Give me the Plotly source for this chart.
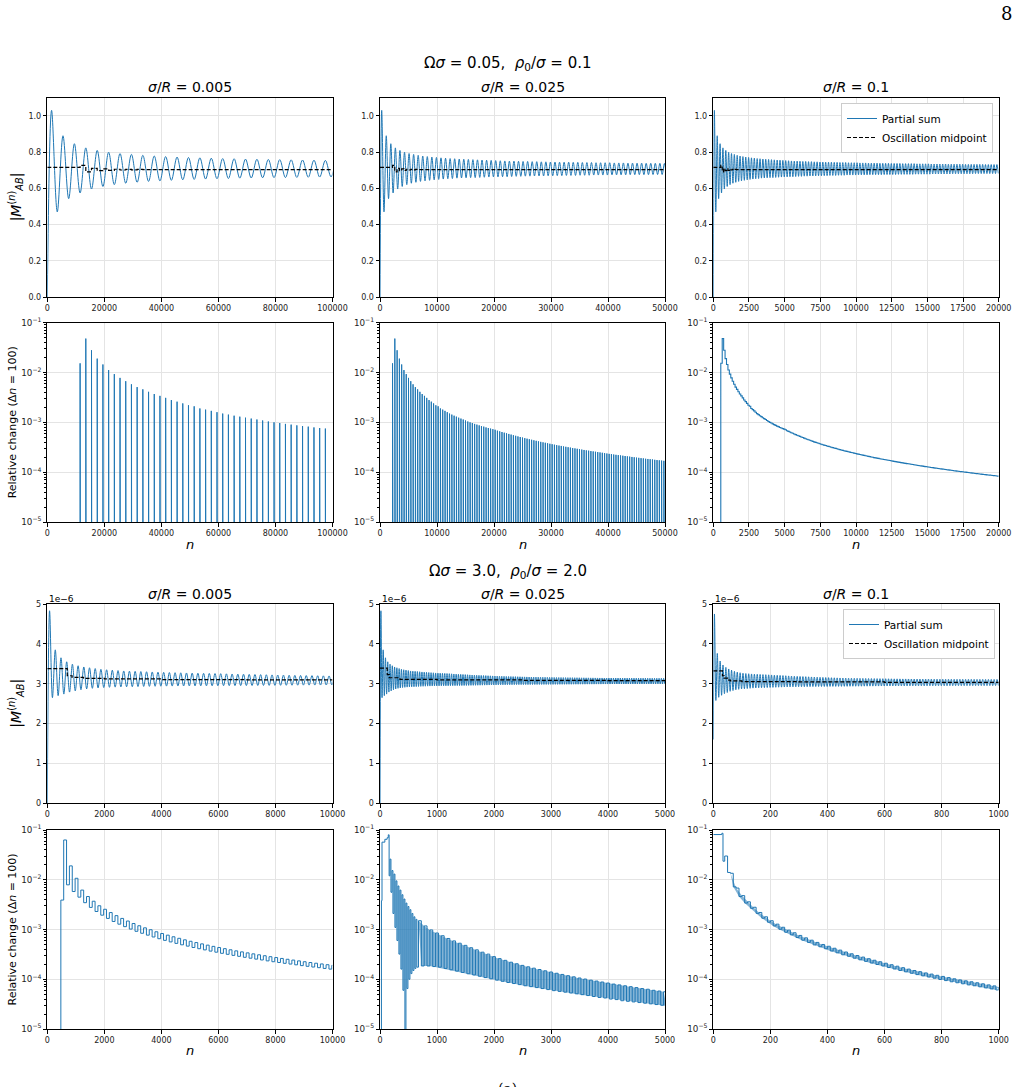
import plotly.graph_objects as go

FONT = "DejaVu Sans"
BLUE = "#1f77b4"
W, H = 1023, 1087

# ---------------- data ----------------
SUPTITLES = ["Ω<i>σ</i> = 0.05,  <i>ρ</i><sub>0</sub>/<i>σ</i> = 0.1",
             "Ω<i>σ</i> = 3.0,  <i>ρ</i><sub>0</sub>/<i>σ</i> = 2.0"]
PANEL_TITLES = ["<i>σ</i>/<i>R</i> = 0.005", "<i>σ</i>/<i>R</i> = 0.025", "<i>σ</i>/<i>R</i> = 0.1"]
XMAX_TOP = [100000, 50000, 20000]
XMAX_BOT = [10000, 5000, 1000]
XTICK_TOP = [20000, 10000, 2500]
XTICK_BOT = [2000, 1000, 200]

# oscillation periods (in n) of the partial sums
PERIOD_TOP = [4000, 800, 200]
PERIOD_BOT = [200, 40, 10]

# top half: peak / trough values of |M| per oscillation cycle
TOP_PEAKS = [
    1.030, 0.890, 0.846, 0.823, 0.809, 0.799, 0.792, 0.787, 0.782, 0.778,
    0.775, 0.772, 0.770, 0.768, 0.766, 0.764, 0.763, 0.761, 0.760, 0.759,
    0.758, 0.757, 0.756, 0.755, 0.754, 0.753, 0.752, 0.751, 0.750, 0.750,
    0.749, 0.748, 0.748, 0.747, 0.747, 0.746, 0.746, 0.745, 0.745, 0.744,
    0.744, 0.744, 0.743, 0.743, 0.742, 0.742, 0.742, 0.741, 0.741, 0.741,
    0.741, 0.740, 0.740, 0.740, 0.739, 0.739, 0.739, 0.739, 0.738, 0.738,
    0.738, 0.738, 0.737, 0.737, 0.737, 0.737, 0.736, 0.736, 0.736, 0.736,
    0.736, 0.735, 0.735, 0.735, 0.735, 0.735, 0.734, 0.734, 0.734, 0.734,
    0.734, 0.734, 0.733, 0.733, 0.733, 0.733, 0.733, 0.733, 0.732, 0.732,
    0.732, 0.732, 0.732, 0.732, 0.732, 0.731, 0.731, 0.731, 0.731, 0.731]
TOP_TROUGHS = [
    0.470, 0.543, 0.574, 0.596, 0.610, 0.620, 0.628, 0.633, 0.638, 0.641,
    0.644, 0.647, 0.649, 0.651, 0.653, 0.654, 0.656, 0.657, 0.658, 0.659,
    0.659, 0.660, 0.661, 0.662, 0.663, 0.663, 0.664, 0.664, 0.665, 0.666,
    0.666, 0.667, 0.667, 0.668, 0.668, 0.668, 0.669, 0.669, 0.670, 0.670,
    0.671, 0.671, 0.671, 0.672, 0.672, 0.672, 0.673, 0.673, 0.673, 0.673,
    0.674, 0.674, 0.674, 0.674, 0.675, 0.675, 0.675, 0.675, 0.675, 0.676,
    0.676, 0.676, 0.676, 0.676, 0.677, 0.677, 0.677, 0.677, 0.677, 0.677,
    0.678, 0.678, 0.678, 0.678, 0.678, 0.678, 0.679, 0.679, 0.679, 0.679,
    0.679, 0.679, 0.679, 0.680, 0.680, 0.680, 0.680, 0.680, 0.680, 0.680,
    0.680, 0.681, 0.681, 0.681, 0.681, 0.681, 0.681, 0.681, 0.681, 0.682]
# oscillation midpoint, one value per half-period update
MID_TOP = [0.715, 0.726, 0.691, 0.710, 0.697, 0.707, 0.699, 0.705, 0.701, 0.704, 0.702, 0.704, 0.703]
MID_TOP_START = [11500, 2200, 525]
MID_TOP_STEP = [2000, 400, 100]

# relative change (Δn = 100), top half, units of 1e-4, one value per update
REL_TOP_E4 = [
    153, 480, 280, 190, 145, 112, 93, 78, 67, 58,
    51, 46, 41, 37, 34, 31, 28, 26, 24, 22,
    21, 19, 18, 17, 16, 15, 14.3, 13.6, 13, 12.4,
    11.9, 11.4, 10.9, 10.4, 10, 9.7, 9.3, 9, 8.7, 8.4,
    8.2, 7.9, 7.7, 7.5, 7.3, 7.1, 6.8, 6.6, 6.4, 6.2,
    6.03, 5.85, 5.68, 5.52, 5.37, 5.22, 5.08, 4.95, 4.82, 4.7,
    4.58, 4.47, 4.36, 4.26, 4.16, 4.06, 3.97, 3.89, 3.8, 3.72,
    3.64, 3.56, 3.49, 3.42, 3.36, 3.29, 3.23, 3.17, 3.11, 3.05,
    3.0, 2.95, 2.89, 2.84, 2.79, 2.74, 2.7, 2.65, 2.61, 2.57,
    2.53, 2.49, 2.45, 2.41, 2.37, 2.33, 2.3, 2.26, 2.23, 2.2,
    2.17, 2.14, 2.11, 2.08, 2.05, 2.02, 1.99, 1.96, 1.94, 1.91,
    1.89, 1.86, 1.84, 1.82, 1.8, 1.77, 1.75, 1.73, 1.71, 1.69,
    1.67, 1.65, 1.631, 1.612, 1.593, 1.574, 1.556, 1.539, 1.521, 1.504,
    1.487, 1.471, 1.455, 1.439, 1.423, 1.407, 1.393, 1.378, 1.364, 1.349,
    1.335, 1.322, 1.309, 1.295, 1.282, 1.269, 1.257, 1.245, 1.232, 1.22,
    1.208, 1.197, 1.186, 1.174, 1.163, 1.152, 1.142, 1.131, 1.121, 1.11,
    1.1, 1.09, 1.081, 1.071, 1.062, 1.052, 1.043, 1.034, 1.026, 1.017,
    1.008, 1.0, 0.991, 0.983, 0.974, 0.966, 0.958, 0.95, 0.943, 0.935,
    0.927, 0.92, 0.913, 0.905, 0.898, 0.891, 0.884, 0.878, 0.871, 0.865,
    0.858, 0.852, 0.845, 0.839, 0.832]
REL_TOP_COUNT = [44, 120, 195]

# bottom half: |M| in units of 1e-6
BOT_START = [0.0, 0.0, 1.6]
BOT_PEAKS = [
    4.83, 3.85, 3.65, 3.55, 3.49, 3.45, 3.42, 3.40, 3.38, 3.36,
    3.35, 3.34, 3.33, 3.32, 3.315, 3.31, 3.305, 3.30, 3.295, 3.29,
    3.285, 3.28, 3.277, 3.274, 3.27, 3.267, 3.264, 3.261, 3.258, 3.255,
    3.252, 3.248, 3.244, 3.241, 3.238, 3.235, 3.231, 3.228, 3.225, 3.221,
    3.218, 3.216, 3.213, 3.21, 3.208, 3.205, 3.203, 3.2, 3.198, 3.195,
    3.193, 3.191, 3.189, 3.187, 3.185, 3.183, 3.181, 3.18, 3.178, 3.177,
    3.175, 3.174, 3.172, 3.171, 3.17, 3.168, 3.167, 3.166, 3.165, 3.164,
    3.163, 3.162, 3.161, 3.16, 3.159, 3.158, 3.157, 3.156, 3.155, 3.155,
    3.154, 3.153, 3.152, 3.152, 3.151, 3.15, 3.15, 3.149, 3.148, 3.148,
    3.147, 3.147, 3.146, 3.146, 3.145, 3.145, 3.144, 3.144, 3.143, 3.143,
    3.142, 3.142, 3.141, 3.141, 3.141, 3.14, 3.14, 3.14, 3.139, 3.139,
    3.139, 3.138, 3.138, 3.138, 3.137, 3.137, 3.137, 3.136, 3.136, 3.136,
    3.135, 3.135, 3.135, 3.135, 3.134]
BOT_TROUGHS = [
    2.65, 2.70, 2.74, 2.79, 2.82, 2.85, 2.87, 2.885, 2.895, 2.905,
    2.91, 2.915, 2.92, 2.923, 2.926, 2.929, 2.932, 2.934, 2.936, 2.938,
    2.94, 2.941, 2.942, 2.943, 2.944, 2.945, 2.946, 2.947, 2.948, 2.949,
    2.95, 2.951, 2.952, 2.953, 2.954, 2.955, 2.956, 2.957, 2.958, 2.959,
    2.96, 2.961, 2.962, 2.963, 2.964, 2.965, 2.966, 2.967, 2.968, 2.969,
    2.97, 2.971, 2.972, 2.973, 2.973, 2.974, 2.975, 2.975, 2.976, 2.977,
    2.977, 2.978, 2.978, 2.979, 2.979, 2.98, 2.98, 2.981, 2.981, 2.982,
    2.982, 2.983, 2.983, 2.984, 2.984, 2.984, 2.985, 2.985, 2.986, 2.986,
    2.986, 2.987, 2.987, 2.987, 2.988, 2.988, 2.988, 2.989, 2.989, 2.989,
    2.99, 2.99, 2.99, 2.99, 2.991, 2.991, 2.991, 2.992, 2.992, 2.992,
    2.992, 2.993, 2.993, 2.993, 2.993, 2.994, 2.994, 2.994, 2.994, 2.995,
    2.995, 2.995, 2.995, 2.995, 2.996, 2.996, 2.996, 2.996, 2.996, 2.997,
    2.997, 2.997, 2.997, 2.997, 2.998]
BOT3_PEAKS = [
    4.75, 3.76, 3.57, 3.47, 3.41, 3.37, 3.34, 3.31, 3.29, 3.275,
    3.262, 3.255, 3.25, 3.245, 3.24, 3.236, 3.232, 3.229, 3.226, 3.223,
    3.22, 3.216, 3.212, 3.208, 3.204, 3.2, 3.196, 3.192, 3.188, 3.185,
    3.182, 3.179, 3.176, 3.173, 3.17, 3.167, 3.164, 3.161, 3.158, 3.155,
    3.152, 3.15, 3.148, 3.146, 3.144, 3.142, 3.14, 3.138, 3.137, 3.136,
    3.135, 3.134, 3.133, 3.132, 3.131, 3.13, 3.129, 3.128, 3.127, 3.126,
    3.125, 3.124, 3.123, 3.122, 3.122, 3.121, 3.12, 3.12, 3.119, 3.118,
    3.118, 3.117, 3.117, 3.116, 3.116, 3.115, 3.115, 3.114, 3.114, 3.113,
    3.113, 3.113, 3.112, 3.112, 3.112, 3.111, 3.111, 3.111, 3.11, 3.11,
    3.11, 3.11, 3.109, 3.109, 3.109, 3.109, 3.108, 3.108, 3.108, 3.108]
BOT3_TROUGHS = [
    2.58, 2.66, 2.71, 2.75, 2.78, 2.81, 2.83, 2.85, 2.86, 2.87,
    2.875, 2.88, 2.885, 2.89, 2.893, 2.896, 2.899, 2.902, 2.905, 2.907,
    2.909, 2.911, 2.913, 2.915, 2.917, 2.919, 2.92, 2.921, 2.922, 2.923,
    2.924, 2.925, 2.926, 2.927, 2.928, 2.929, 2.93, 2.93, 2.931, 2.931,
    2.932, 2.933, 2.933, 2.934, 2.934, 2.935, 2.935, 2.936, 2.937, 2.937,
    2.938, 2.938, 2.939, 2.939, 2.94, 2.94, 2.941, 2.941, 2.942, 2.942,
    2.943, 2.943, 2.944, 2.944, 2.944, 2.945, 2.945, 2.945, 2.946, 2.946,
    2.946, 2.947, 2.947, 2.947, 2.948, 2.948, 2.948, 2.948, 2.949, 2.949,
    2.949, 2.949, 2.95, 2.95, 2.95, 2.95, 2.95, 2.951, 2.951, 2.951,
    2.951, 2.951, 2.952, 2.952, 2.952, 2.952, 2.952, 2.952, 2.953, 2.953]

MID_B1_N = [0, 700, 870, 1270, 2000, 4000, 7000]
MID_B1 = [3.38, 3.20, 3.16, 3.135, 3.12, 3.105, 3.095]
MID_B2_N = [0, 127, 162, 350, 1000, 2500, 4000]
MID_B2 = [3.39, 3.23, 3.15, 3.11, 3.095, 3.085, 3.08]
MID_B3_N = [0, 32, 38, 50, 60, 100, 300, 600]
MID_B3 = [3.32, 3.20, 3.14, 3.09, 3.07, 3.055, 3.045, 3.035]

# relative change, bottom half, units of 1e-4
B1_STEP_START = 475
B1_LOW_E4 = [39, 79, 58, 44.7, 34.6, 27.8, 23, 19.4, 16.7, 14.5,
             12.8, 11.4, 10.2, 9.2, 8.4, 7.7, 7.07, 6.53, 6.05, 5.63,
             5.26, 4.92, 4.63, 4.35, 4.11, 3.89, 3.68, 3.5, 3.32, 3.17,
             3.02, 2.89, 2.76, 2.65, 2.54, 2.44, 2.34, 2.25, 2.17, 2.09,
             2.02, 1.95, 1.88, 1.82, 1.76, 1.71, 1.65, 1.6]
B1_HIGH_E4 = [630, 190, 107, 62, 46, 37, 30, 25.5, 21.9, 19,
              16.7, 14.8, 13.2, 11.9, 10.8, 9.9, 9.0, 8.3, 7.7, 7.14,
              6.65, 6.2, 5.8, 5.46, 5.14, 4.85, 4.58, 4.34, 4.12, 3.91,
              3.72, 3.55, 3.39, 3.24, 3.1, 2.97, 2.84, 2.73, 2.62, 2.52,
              2.43, 2.34, 2.25, 2.17, 2.1, 2.03, 1.96, 1.9]

B2_EARLY_N = [25, 35, 85, 125, 145, 160]
B2_EARLY_E4 = [38, 570, 650, 700, 800, 120]
# early, finely resolved spikes (every 35 in n)
B2_DENSE_UP_E4 = [260, 153, 130, 95, 75, 62, 50, 41, 34, 29, 25, 21, 18, 16]
B2_DENSE_LOW_E4 = [56, 21, 11, 6, 3.2, 1.6, 0.6, 0.05, 0.65, 1.0, 1.3, 1.5, 1.65, 1.75]
B2_DENSE_UP_START, B2_DENSE_LOW_START, B2_DENSE_STEP = 175, 192, 35
# later band (every 100 in n)
B2_UP_E4 = [15, 11.8, 9.8, 8.5, 7.5,
            6.6, 5.9, 5.3, 4.8, 4.3, 3.9, 3.5, 3.2, 2.85, 2.6,
            2.4, 2.2, 2.05, 1.9, 1.78, 1.67, 1.57, 1.48, 1.4, 1.32,
            1.25, 1.18, 1.12, 1.06, 1.01, 0.96, 0.92, 0.88, 0.84, 0.8,
            0.77, 0.74, 0.71, 0.68, 0.65, 0.63, 0.6, 0.58, 0.56]
B2_LOW_E4 = [1.85, 1.85, 1.8, 1.75, 1.65,
             1.55, 1.46, 1.37, 1.29, 1.22, 1.15, 1.08, 1.02, 0.96, 0.91,
             0.86, 0.82, 0.78, 0.74, 0.71, 0.68, 0.65, 0.62, 0.59, 0.57,
             0.55, 0.53, 0.51, 0.49, 0.47, 0.45, 0.43, 0.42, 0.4, 0.39,
             0.37, 0.36, 0.35, 0.34, 0.33, 0.32, 0.31, 0.3, 0.29]
B2_UP_START, B2_LOW_START, B2_STEP = 675, 725, 100

B3_EARLY_N = [0, 30, 34]
B3_EARLY_E4 = [810, 860, 236]
B3_UP_E4 = [300, 135, 68, 48, 36, 28, 22, 18, 15, 12.8,
            11.1, 9.7, 8.6, 7.6, 6.8, 6.1, 5.5, 5.0, 4.6, 4.2,
            3.85, 3.53, 3.25, 3.0, 2.79, 2.59, 2.41, 2.25, 2.1, 1.96,
            1.83, 1.71, 1.6, 1.5, 1.42, 1.34, 1.27, 1.2, 1.14, 1.08,
            1.02, 0.97, 0.93, 0.89, 0.85, 0.81, 0.77, 0.735, 0.7]
B3_LOW_E4 = [140, 72, 46, 34, 26.7, 21.1, 16.9, 14, 11.8, 10.1,
             8.8, 7.8, 6.9, 6.1, 5.5, 4.9, 4.5, 4.1, 3.7, 3.4,
             3.1, 2.9, 2.65, 2.46, 2.29, 2.12, 1.98, 1.85, 1.72, 1.61,
             1.5, 1.41, 1.32, 1.24, 1.17, 1.11, 1.05, 0.99, 0.94, 0.89,
             0.85, 0.81, 0.77, 0.74, 0.705, 0.67, 0.64, 0.61]
B3_UP_START, B3_LOW_START, B3_STEP = 40, 50, 20

# ---------------- layout geometry (pixels) ----------------
COLS_PX = [(47.3, 332.5), (380.0, 665.0), (713.3, 998.7)]
ROWS_PX = [(97.7, 297.0), (322.7, 522.0), (604.0, 803.3), (830.0, 1029.0)]
FLOOR = 1e-7


def fx(p):
    return p / W


def fy(p):
    return 1 - p / H


def names(r, c):
    i = r * 3 + c + 1
    return ("x" if i == 1 else f"x{i}"), ("y" if i == 1 else f"y{i}"), i


fig = go.Figure()


def add(r, c, x, y, **kw):
    xa, ya, _ = names(r, c)
    kw.setdefault("showlegend", False)
    fig.add_trace(go.Scatter(x=x, y=y, xaxis=xa, yaxis=ya, mode="lines", **kw))


def osc_points(start_val, period, peaks, troughs, xmax, pph, tph):
    xs, ys = [0.0], [start_val]
    for k, (p, t) in enumerate(zip(peaks, troughs)):
        xp = (k + pph) * period
        if xp > xmax + period:
            break
        xs += [xp, (k + tph) * period]
        ys += [p, t]
    return xs, ys


def e4(lst):
    return [v * 1e-4 for v in lst]


# ---- row 1: partial sums, top half ----
for c in range(3):
    xs, ys = osc_points(0.0, PERIOD_TOP[c], TOP_PEAKS, TOP_TROUGHS, XMAX_TOP[c], 0.375, 0.875)
    leg = dict(showlegend=True, name="Partial sum", legend="legend") if c == 2 else {}
    add(0, c, xs, ys, line=dict(color=BLUE, width=1, shape="spline"), **leg)
    mx = [0] + [MID_TOP_START[c] + MID_TOP_STEP[c] * i for i in range(len(MID_TOP) - 1)] + [XMAX_TOP[c]]
    my = MID_TOP + [MID_TOP[-1]]
    leg = dict(showlegend=True, name="Oscillation midpoint", legend="legend") if c == 2 else {}
    add(0, c, mx, my, line=dict(color="black", width=1.2, dash="4px,2px", shape="hv"), **leg)

# ---- row 2: relative change, top half ----
rel_top = e4(REL_TOP_E4)
for c in range(2):
    xs, ys = [], []
    for i, v in enumerate(rel_top[:REL_TOP_COUNT[c]]):
        x0 = MID_TOP_START[c] + MID_TOP_STEP[c] * i
        xs += [x0, x0, x0 + 100, x0 + 100, None]
        ys += [FLOOR, v, v, FLOOR, None]
    add(1, c, xs, ys, line=dict(color=BLUE, width=1))
vals = rel_top[:REL_TOP_COUNT[2]]
xs = [MID_TOP_START[2]] + [MID_TOP_START[2] + 100 * i for i in range(len(vals))] + [XMAX_TOP[2]]
ys = [FLOOR] + vals + [vals[-1]]
add(1, 2, xs, ys, line=dict(color=BLUE, width=1.1, shape="hv"))

# ---- row 3: partial sums, bottom half (1e-6 units) ----
bot_sets = [(BOT_PEAKS, BOT_TROUGHS), (BOT_PEAKS, BOT_TROUGHS), (BOT3_PEAKS, BOT3_TROUGHS)]
mids = [(MID_B1_N, MID_B1), (MID_B2_N, MID_B2), (MID_B3_N, MID_B3)]
for c in range(3):
    pk, tr = bot_sets[c]
    xs, ys = osc_points(BOT_START[c], PERIOD_BOT[c], pk, tr, XMAX_BOT[c], 0.4, 0.9)
    leg = dict(showlegend=True, name="Partial sum", legend="legend2") if c == 2 else {}
    add(2, c, xs, ys, line=dict(color=BLUE, width=1, shape="spline"), **leg)
    mn, mv = mids[c]
    leg = dict(showlegend=True, name="Oscillation midpoint", legend="legend2") if c == 2 else {}
    add(2, c, list(mn) + [XMAX_BOT[c]], list(mv) + [mv[-1]],
        line=dict(color="black", width=1.2, dash="4px,2px", shape="hv"), **leg)

# ---- row 4: relative change, bottom half ----
seq = []
for lo, hi in zip(e4(B1_LOW_E4), e4(B1_HIGH_E4)):
    seq += [lo, hi]
xs = [B1_STEP_START] + [B1_STEP_START + 100 * j for j in range(len(seq))] + [XMAX_BOT[0]]
ys = [FLOOR] + seq + [seq[-1]]
add(3, 0, xs, ys, line=dict(color=BLUE, width=1, shape="hv"))


def zig(up, low, ust, lst, step):
    xs, ys = [], []
    for i in range(max(len(up), len(low))):
        if i < len(up):
            xs.append(ust + step * i); ys.append(up[i])
        if i < len(low):
            xs.append(lst + step * i); ys.append(low[i])
    return xs, ys


def band(up, low, ust, lst, step, i0):
    ux = [ust + step * i for i in range(i0, len(up))]
    lx = [lst + step * i for i in range(i0, len(low))]
    return ux + lx[::-1], up[i0:] + low[i0:][::-1]


FILL = "rgba(31,119,180,0.55)"
up2, lo2 = e4(B2_UP_E4), e4(B2_LOW_E4)
bx, by = band(up2, lo2, B2_UP_START, B2_LOW_START, B2_STEP, 0)
add(3, 1, bx, by, fill="toself", fillcolor=FILL, line=dict(width=0))
dx, dy = zig(e4(B2_DENSE_UP_E4), e4(B2_DENSE_LOW_E4), B2_DENSE_UP_START, B2_DENSE_LOW_START, B2_DENSE_STEP)
zx, zy = zig(up2, lo2, B2_UP_START, B2_LOW_START, B2_STEP)
xs = [B2_EARLY_N[0]] + B2_EARLY_N + dx + zx
ys = [FLOOR] + e4(B2_EARLY_E4) + dy + zy
add(3, 1, xs, ys, line=dict(color=BLUE, width=1, shape="hv"))

up3, lo3 = e4(B3_UP_E4), e4(B3_LOW_E4)
bx, by = band(up3, lo3, B3_UP_START, B3_LOW_START, B3_STEP, 1)
add(3, 2, bx, by, fill="toself", fillcolor=FILL, line=dict(width=0))
zx, zy = zig(up3, lo3, B3_UP_START, B3_LOW_START, B3_STEP)
add(3, 2, B3_EARLY_N + zx, e4(B3_EARLY_E4) + zy, line=dict(color=BLUE, width=1, shape="hv"))

# ---------------- axes ----------------
layout = dict(width=W, height=H, autosize=False,
              margin=dict(l=0, r=0, t=0, b=0, pad=0, autoexpand=False),
              paper_bgcolor="white", plot_bgcolor="white",
              font=dict(family=FONT, color="black"))


def base_axis():
    return dict(showline=True, linecolor="black", linewidth=1, mirror=True,
                ticks="outside", ticklen=3.5, tickwidth=0.8, tickcolor="black",
                showgrid=True, gridcolor="#e4e4e4", gridwidth=1, zeroline=False,
                automargin=False,
                tickfont=dict(family=FONT, size=8, color="#222"))


for r in range(4):
    for c in range(3):
        xa, ya, i = names(r, c)
        top = r < 2
        xmax = XMAX_TOP[c] if top else XMAX_BOT[c]
        xd = XTICK_TOP[c] if top else XTICK_BOT[c]
        xaxis = base_axis()
        xaxis.update(domain=[fx(COLS_PX[c][0]), fx(COLS_PX[c][1])], anchor=ya,
                     range=[0, xmax], tick0=0, dtick=xd, tickformat="d")
        yaxis = base_axis()
        yaxis.update(domain=[fy(ROWS_PX[r][1]), fy(ROWS_PX[r][0])], anchor=xa)
        if r == 0:
            yaxis.update(range=[0, 1.1], tick0=0, dtick=0.2, tickformat=".1f")
        elif r == 2:
            yaxis.update(range=[0, 5], tick0=0, dtick=1, tickformat="d")
        else:
            yaxis.update(type="log", range=[-5, -1], dtick=1, exponentformat="power",
                         tickfont=dict(family=FONT, size=7, color="#222"),
                         minor=dict(dtick="D1", ticks="outside", ticklen=2,
                                    tickwidth=0.6, tickcolor="black", showgrid=False))
        layout["xaxis" if i == 1 else f"xaxis{i}"] = xaxis
        layout["yaxis" if i == 1 else f"yaxis{i}"] = yaxis

leg_common = dict(bgcolor="white", bordercolor="#cccccc", borderwidth=1,
                  font=dict(family=FONT, size=10.5, color="black"),
                  xanchor="right", yanchor="top", tracegroupgap=0, itemwidth=30)
layout["legend"] = dict(x=fx(993), y=fy(103), **leg_common)
layout["legend2"] = dict(x=fx(995), y=fy(609), **leg_common)

# ---------------- annotations ----------------
ann = []


def text(x, y, s, size, **kw):
    d = dict(x=fx(x), y=fy(y), xref="paper", yref="paper", text=s, showarrow=False,
             font=dict(family=kw.pop("family", FONT), size=size, color="black"))
    d.update(kw)
    ann.append(d)


text(508, 63, SUPTITLES[0], 15, xanchor="center", yanchor="middle")
text(508, 571, SUPTITLES[1], 15, xanchor="center", yanchor="middle")
for c in range(3):
    cx = (COLS_PX[c][0] + COLS_PX[c][1]) / 2
    text(cx, 87, PANEL_TITLES[c], 14, xanchor="center", yanchor="middle")
    text(cx, 594, PANEL_TITLES[c], 14, xanchor="center", yanchor="middle")
    text(cx, 544, "<i>n</i>", 13, xanchor="center", yanchor="middle")
    text(cx, 1050, "<i>n</i>", 13, xanchor="center", yanchor="middle")
    text(COLS_PX[c][0], 599, "1e−6", 9, xanchor="left", yanchor="middle")

MLABEL = "|<i>M</i><sup>(<i>n</i>)</sup><sub><i>AB</i></sub>|"
RLABEL = "Relative change (Δ<i>n</i> = 100)"
for r, lab in enumerate([MLABEL, RLABEL, MLABEL, RLABEL]):
    cy = (ROWS_PX[r][0] + ROWS_PX[r][1]) / 2
    if r % 2 == 0:
        text(16, cy, lab, 14, textangle=-90, xanchor="center", yanchor="middle")
    else:
        text(12, cy, lab, 11, textangle=-90, xanchor="center", yanchor="middle")

text(1006, 13, "8", 18, family="DejaVu Serif", xanchor="center", yanchor="middle")
text(507, 1079, "(a)", 14, family="DejaVu Serif", xanchor="center", yanchor="top")

layout["annotations"] = ann
fig.update_layout(**layout)
fig.write_html("out.html",
               post_script="document.documentElement.style.margin='0';"
                           "document.body.style.margin='0';"
                           "document.body.style.overflow='hidden';")
